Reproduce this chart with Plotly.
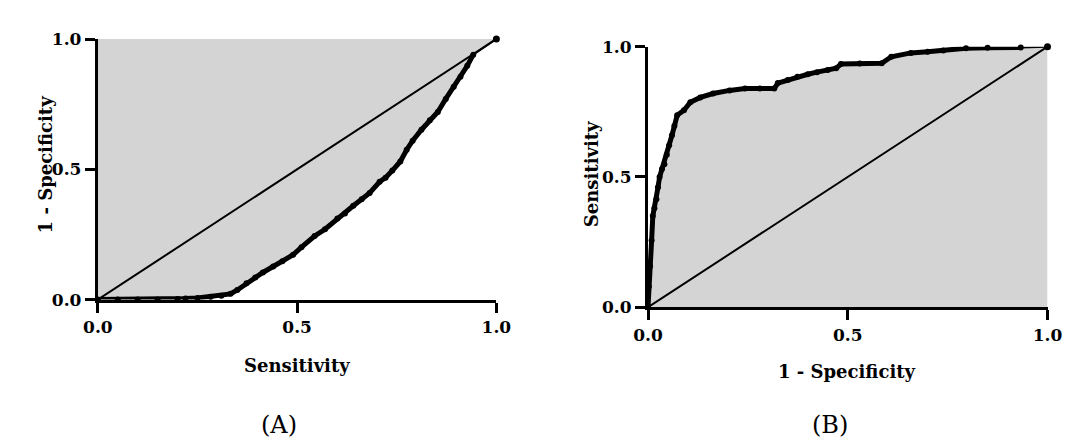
import plotly.graph_objects as go

# Panel A: ROC-type curve (x = Sensitivity, y = 1 - Specificity)
a_x = [0, 0.05, 0.10, 0.15, 0.20, 0.22, 0.25, 0.283, 0.31, 0.333, 0.35, 0.373, 0.395, 0.414,
       0.44, 0.463, 0.49, 0.511, 0.544, 0.57, 0.601, 0.62, 0.641, 0.662, 0.682, 0.707, 0.722,
       0.739, 0.759, 0.775, 0.79, 0.812, 0.833, 0.853, 0.873, 0.893, 0.91, 0.927, 0.942, 1.0]
a_y = [0, 0, 0, 0, 0.002, 0.004, 0.006, 0.011, 0.015, 0.022, 0.037, 0.063, 0.085, 0.104,
       0.127, 0.147, 0.172, 0.201, 0.244, 0.27, 0.311, 0.33, 0.36, 0.385, 0.409, 0.452, 0.468,
       0.495, 0.53, 0.575, 0.61, 0.652, 0.688, 0.72, 0.77, 0.817, 0.855, 0.897, 0.94, 1.0]

# Panel B: ROC curve (x = 1 - Specificity, y = Sensitivity)
b_x = [0, 0.002, 0.005, 0.009, 0.012, 0.016, 0.021, 0.025, 0.029, 0.035, 0.041, 0.047, 0.053,
       0.06, 0.066, 0.073, 0.09, 0.106, 0.131, 0.163, 0.204, 0.243, 0.28, 0.316, 0.325, 0.35,
       0.374, 0.40, 0.423, 0.45, 0.471, 0.483, 0.53, 0.585, 0.609, 0.658, 0.70, 0.739, 0.796,
       0.85, 0.933, 1.0]
b_y = [0, 0.08, 0.157, 0.256, 0.35, 0.38, 0.414, 0.46, 0.5, 0.53, 0.549, 0.585, 0.622,
       0.66, 0.695, 0.737, 0.756, 0.787, 0.805, 0.82, 0.832, 0.839, 0.839, 0.839, 0.86, 0.872,
       0.884, 0.894, 0.902, 0.91, 0.917, 0.933, 0.935, 0.936, 0.961, 0.976, 0.98, 0.985, 0.994,
       0.996, 0.997, 1.0]

diag = [0, 1]
tick_vals = [0, 0.5, 1.0]
tick_text = ["0.0", "0.5", "1.0"]

FILL = "#d4d4d4"
FONT = "DejaVu Serif"

fig = go.Figure()

# Panel A fill: region above curve up to y=1
fig.add_trace(go.Scatter(x=a_x + [1.0, 0.0], y=a_y + [1.0, 1.0], fill="toself",
                         fillcolor=FILL, line=dict(width=0), mode="lines",
                         xaxis="x", yaxis="y", hoverinfo="skip"))
fig.add_trace(go.Scatter(x=diag, y=diag, mode="lines", line=dict(color="black", width=2),
                         xaxis="x", yaxis="y", cliponaxis=False))
fig.add_trace(go.Scatter(x=a_x[-2:], y=a_y[-2:], mode="lines", line=dict(color="black", width=2),
                         xaxis="x", yaxis="y", cliponaxis=False))
fig.add_trace(go.Scatter(x=a_x[:-1], y=a_y[:-1], mode="lines+markers",
                         line=dict(color="black", width=5),
                         marker=dict(color="black", size=6), xaxis="x", yaxis="y", cliponaxis=False))
fig.add_trace(go.Scatter(x=a_x[-1:], y=a_y[-1:], mode="markers",
                         marker=dict(color="black", size=7), xaxis="x", yaxis="y", cliponaxis=False))

# Panel B fill: region under curve
fig.add_trace(go.Scatter(x=b_x, y=b_y, fill="tozeroy", fillcolor=FILL, line=dict(width=0),
                         mode="lines", xaxis="x2", yaxis="y2", hoverinfo="skip"))
fig.add_trace(go.Scatter(x=diag, y=diag, mode="lines", line=dict(color="black", width=2),
                         xaxis="x2", yaxis="y2", cliponaxis=False))
fig.add_trace(go.Scatter(x=b_x[-2:], y=b_y[-2:], mode="lines", line=dict(color="black", width=2),
                         xaxis="x2", yaxis="y2", cliponaxis=False))
fig.add_trace(go.Scatter(x=b_x[:-1], y=b_y[:-1], mode="lines+markers",
                         line=dict(color="black", width=5),
                         marker=dict(color="black", size=6), xaxis="x2", yaxis="y2", cliponaxis=False))
fig.add_trace(go.Scatter(x=b_x[-1:], y=b_y[-1:], mode="markers",
                         marker=dict(color="black", size=7), xaxis="x2", yaxis="y2", cliponaxis=False))

W, H = 1072, 440
def px(x):
    return x / W
def py(y):
    return 1 - y / H

axis_common = dict(range=[0, 1], tickvals=tick_vals, ticktext=tick_text, showgrid=False,
                   zeroline=False, showline=True, linecolor="black", linewidth=3,
                   ticks="outside", ticklen=10, tickwidth=3, tickcolor="black",
                   tickfont=dict(family=FONT, size=17, color="black", weight="bold"),
                   fixedrange=True)

fig.update_layout(
    width=W, height=H, margin=dict(l=0, r=0, t=0, b=0),
    paper_bgcolor="white", plot_bgcolor="white", showlegend=False,
    xaxis=dict(domain=[px(77), px(487)], anchor="y", **axis_common),
    yaxis=dict(domain=[py(295), py(22)], anchor="x", **axis_common),
    xaxis2=dict(domain=[px(643), px(1054)], anchor="y2", **axis_common),
    yaxis2=dict(domain=[py(303), py(30)], anchor="x2", **axis_common),
)

ann_font = dict(family=FONT, size=18, color="black", weight="bold")
label_font = dict(family=FONT, size=24, color="black")
anns = [
    dict(text="Sensitivity", x=px(282), y=py(364), font=ann_font),
    dict(text="1 - Specificity", x=px(23), y=py(153), font=ann_font, textangle=-90),
    dict(text="1 - Specificity", x=px(848), y=py(370), font=ann_font),
    dict(text="Sensitivity", x=px(585), y=py(164), font=ann_font, textangle=-90),
    dict(text="(A)", x=px(263), y=py(426), font=label_font),
    dict(text="(B)", x=px(830), y=py(426), font=label_font),
]
for a in anns:
    a.update(xref="paper", yref="paper", showarrow=False, xanchor="center", yanchor="middle")
fig.update_layout(annotations=anns)

fig.write_html("out.html")
